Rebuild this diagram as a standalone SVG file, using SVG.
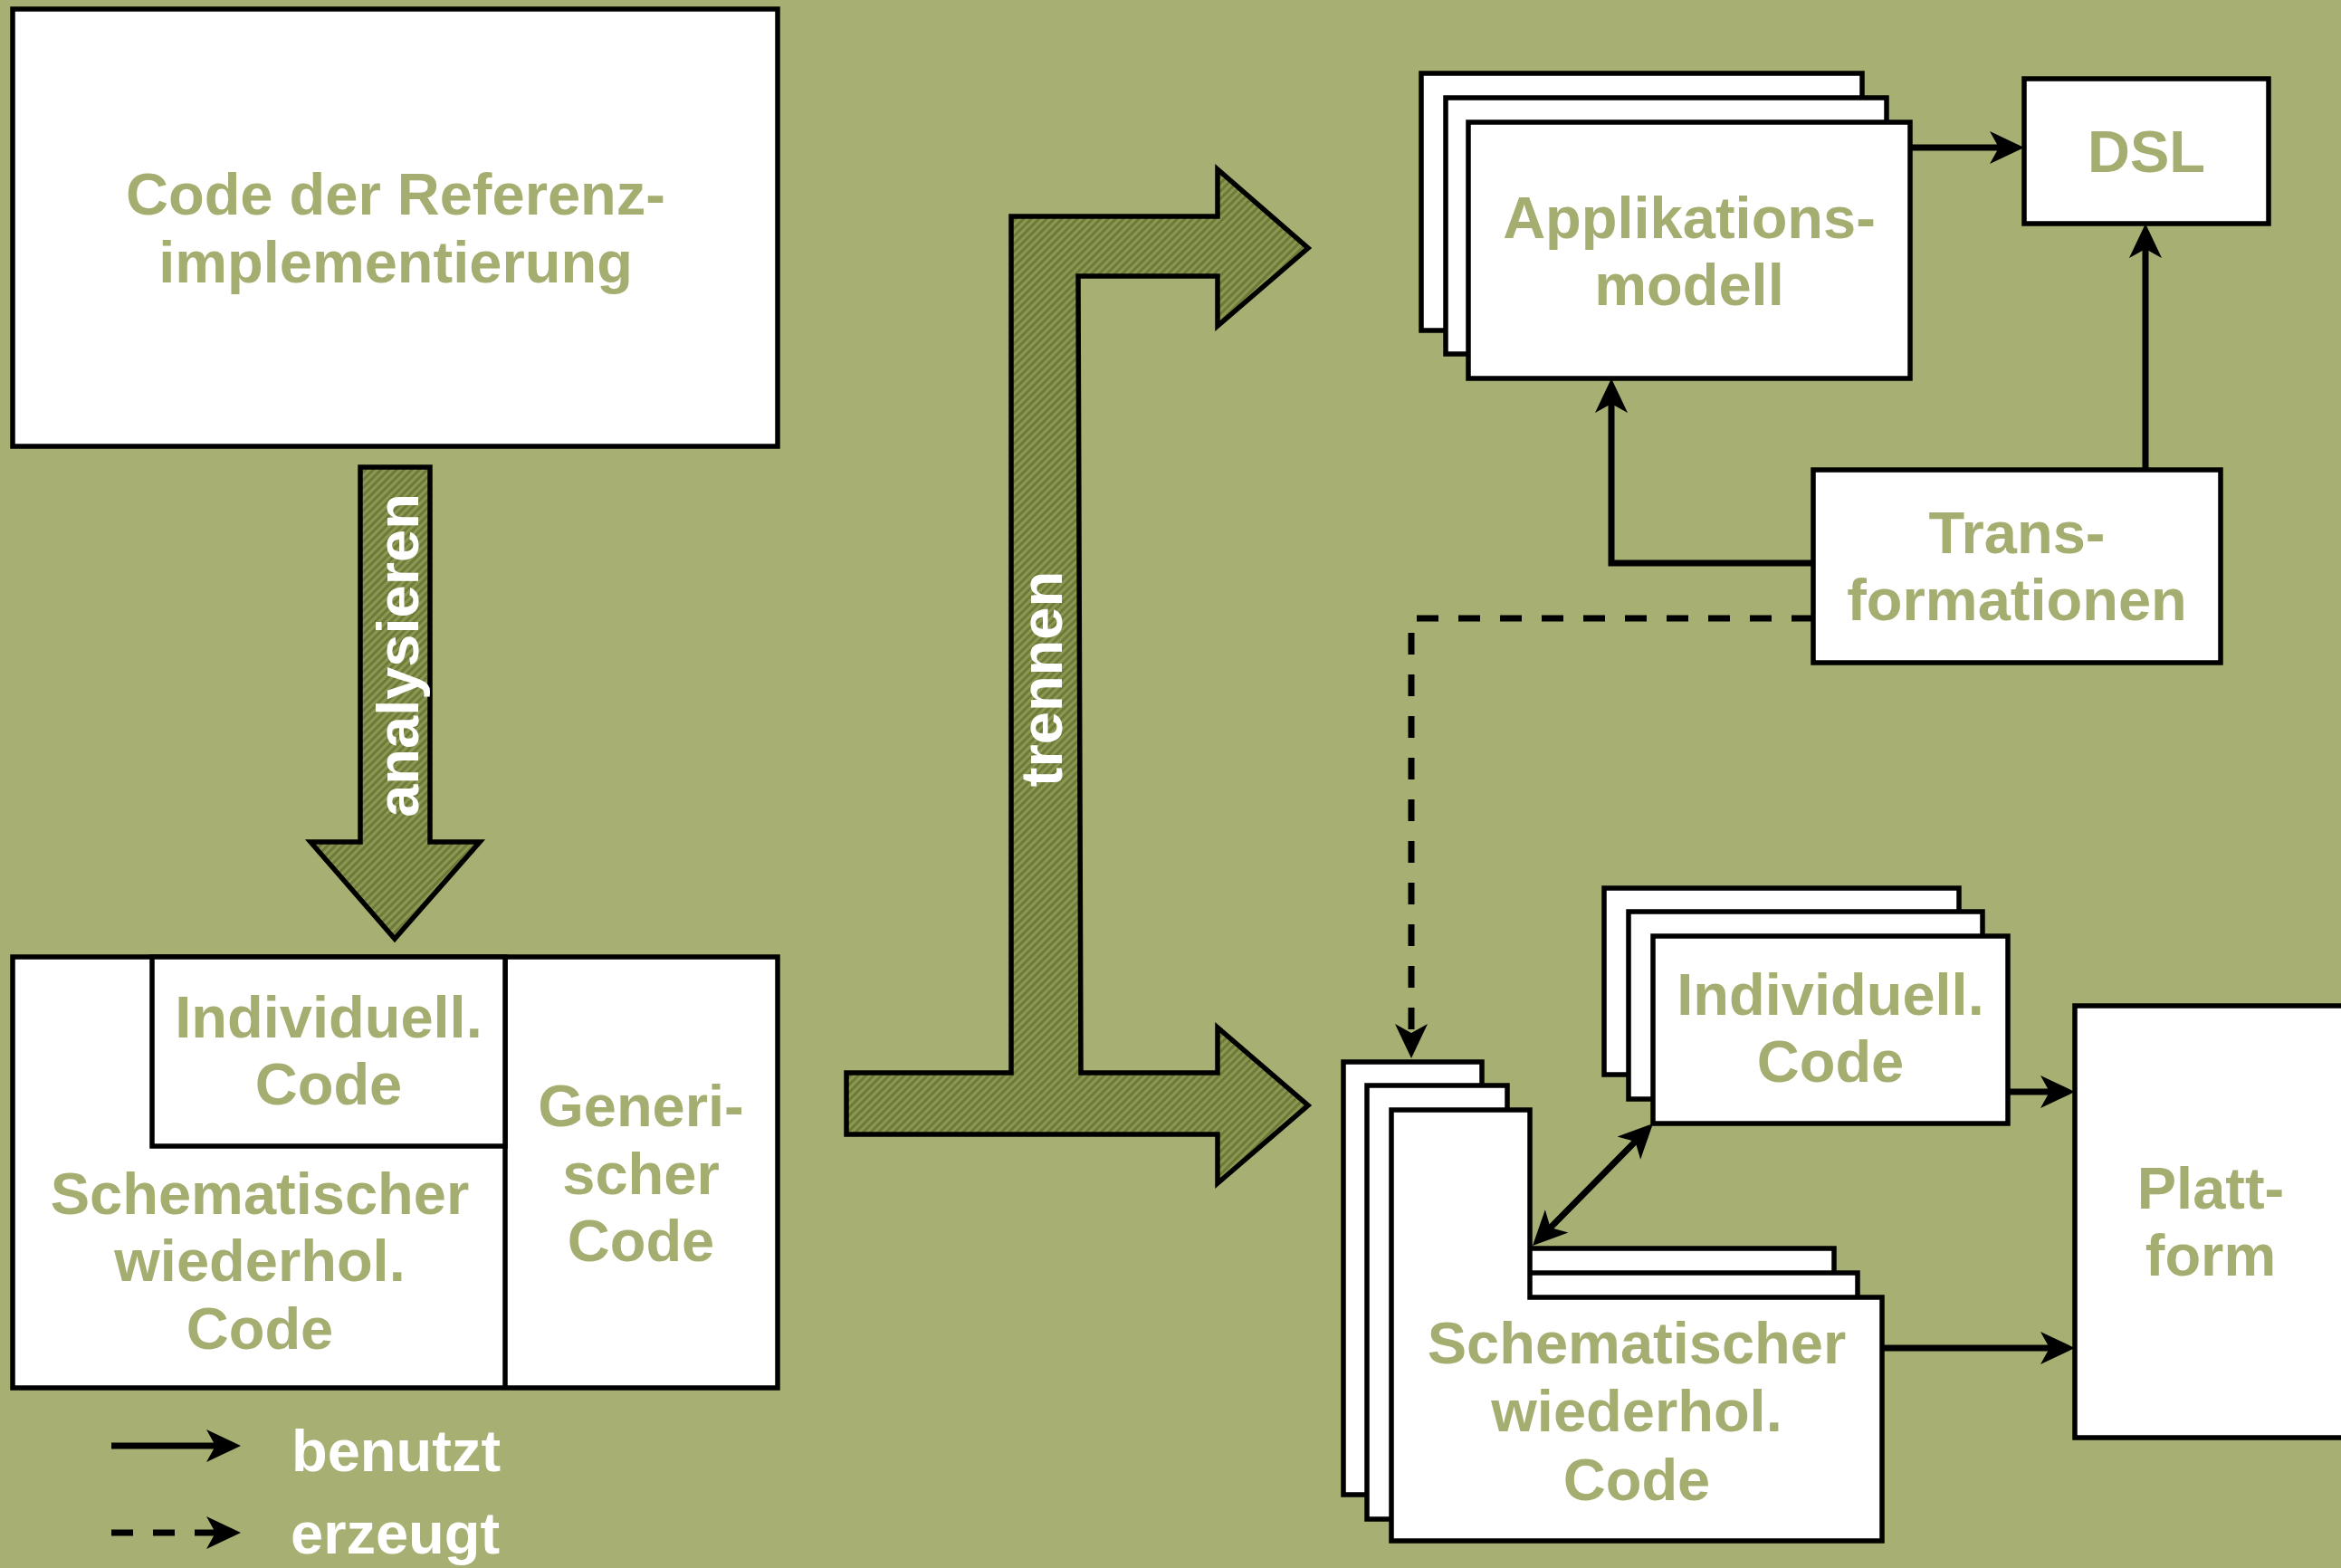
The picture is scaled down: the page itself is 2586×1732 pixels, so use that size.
<svg xmlns="http://www.w3.org/2000/svg" width="2586" height="1732" viewBox="0 0 2586 1732">
  <style>
    .box { fill: #FFFFFF; stroke: #000000; stroke-width: 5.5; }
    .lbl { font-family: "Liberation Sans", Arial, sans-serif; font-weight: bold; font-size: 65px; fill: #A5AE70; text-anchor: middle; }
    .wlbl { font-family: "Liberation Sans", Arial, sans-serif; font-weight: bold; font-size: 65px; fill: #FFFFFF; }
    .big { fill: url(#hatch); stroke: #000000; stroke-width: 5.5; stroke-linejoin: miter; }
    .use { fill: none; stroke: #000000; stroke-width: 7; marker-end: url(#head); }
    .gen { fill: none; stroke: #000000; stroke-width: 7; stroke-dasharray: 24 22; marker-end: url(#head); }
  </style>
  <defs>
    <pattern id="hatch" width="6" height="6" patternUnits="userSpaceOnUse" patternTransform="rotate(45)">
      <rect width="6" height="6" fill="#6E7B38"/>
      <rect width="3" height="6" fill="#8A9854"/>
    </pattern>
    <marker id="head" markerUnits="userSpaceOnUse" markerWidth="38" markerHeight="38" viewBox="0 0 38 38" refX="29" refY="19" orient="auto-start-reverse">
      <path d="M0,1 L38,19 L0,37 L10,19 z" fill="#000000"/>
    </marker>
  </defs>

  <!-- background -->
  <rect x="0" y="0" width="2586" height="1732" fill="#A7AF72"/>

  <!-- reference implementation -->
  <g id="referenz">
    <rect class="box" x="14" y="10" width="845" height="483"/>
    <text class="lbl" x="437" y="237">Code der Referenz-</text>
    <text class="lbl" x="437" y="312">implementierung</text>
  </g>

  <!-- analyse arrow -->
  <g id="analysieren">
    <polygon class="big" points="398,516 475,516 475,930 530,930 436,1037 343,930 398,930"/>
    <text class="wlbl" text-anchor="middle" transform="translate(462,724) rotate(-90)">analysieren</text>
  </g>

  <!-- split of the reference code -->
  <g id="aufteilung">
    <rect class="box" x="14" y="1057" width="845" height="476"/>
    <line x1="558" y1="1057" x2="558" y2="1533" stroke="#000000" stroke-width="5.5"/>
    <rect class="box" x="168" y="1057" width="390" height="209"/>
    <text class="lbl" x="363" y="1146">Individuell.</text>
    <text class="lbl" x="363" y="1220">Code</text>
    <text class="lbl" x="287" y="1341">Schematischer</text>
    <text class="lbl" x="287" y="1415">wiederhol.</text>
    <text class="lbl" x="287" y="1490">Code</text>
    <text class="lbl" x="708" y="1244">Generi-</text>
    <text class="lbl" x="708" y="1319">scher</text>
    <text class="lbl" x="708" y="1393">Code</text>
  </g>

  <!-- separation arrow -->
  <g id="trennen">
    <polygon class="big" points="935,1185 1117,1185 1117,239 1345,239 1345,187 1445,274 1345,360 1345,305 1191,305 1194,1185 1345,1185 1345,1135 1445,1221 1345,1307 1345,1253 935,1253"/>
    <text class="wlbl" text-anchor="middle" transform="translate(1173,750) rotate(-90)">trennen</text>
  </g>

  <!-- application model stack -->
  <g id="applikationsmodell">
    <rect class="box" x="1570" y="81" width="487" height="284"/>
    <rect class="box" x="1597" y="108" width="487" height="283"/>
    <rect class="box" x="1622" y="135" width="488" height="283"/>
    <text class="lbl" x="1866" y="263">Applikations-</text>
    <text class="lbl" x="1866" y="337">modell</text>
  </g>

  <g id="dsl">
    <rect class="box" x="2236" y="87" width="270" height="160"/>
    <text class="lbl" x="2371" y="190">DSL</text>
  </g>

  <g id="transformationen">
    <rect class="box" x="2003" y="519" width="450" height="213"/>
    <text class="lbl" x="2228" y="611">Trans-</text>
    <text class="lbl" x="2228" y="685">formationen</text>
  </g>

  <!-- individual code stack -->
  <g id="individueller-code">
    <rect class="box" x="1772" y="981" width="392" height="206"/>
    <rect class="box" x="1799" y="1007" width="391" height="207"/>
    <rect class="box" x="1826" y="1034" width="392" height="207"/>
    <text class="lbl" x="2022" y="1121">Individuell.</text>
    <text class="lbl" x="2022" y="1195">Code</text>
  </g>

  <!-- schematic repeated code stack -->
  <g id="schematischer-code">
    <polygon class="box" points="1484,1173 1637,1173 1637,1379 2026,1379 2026,1651 1484,1651"/>
    <polygon class="box" points="1510,1199 1665,1199 1665,1406 2052,1406 2052,1678 1510,1678"/>
    <polygon class="box" points="1537,1226 1690,1226 1690,1433 2079,1433 2079,1702 1537,1702"/>
    <text class="lbl" x="1808" y="1506">Schematischer</text>
    <text class="lbl" x="1808" y="1581">wiederhol.</text>
    <text class="lbl" x="1808" y="1657">Code</text>
  </g>

  <g id="plattform">
    <rect class="box" x="2292" y="1111" width="310" height="477"/>
    <text class="lbl" x="2442" y="1335">Platt-</text>
    <text class="lbl" x="2442" y="1409">form</text>
  </g>

  <!-- connectors -->
  <g id="connectors">
    <path class="use" d="M2110,163 H2227"/>
    <path class="use" d="M2370,519 V256"/>
    <path class="use" d="M2003,622 H1780 V427"/>
    <path class="gen" d="M2003,683 H1559 V1160"/>
    <path class="use" d="M2218,1206 H2283"/>
    <path class="use" d="M2079,1489 H2283"/>
    <path class="use" marker-start="url(#head)" d="M1819.7,1247.4 L1699.3,1369.6"/>
  </g>

  <!-- legend -->
  <g id="legende">
    <path class="use" d="M123,1597 H257"/>
    <text class="wlbl" x="322" y="1625">benutzt</text>
    <path class="gen" d="M123,1693 H257"/>
    <text class="wlbl" x="321" y="1716">erzeugt</text>
  </g>
</svg>
